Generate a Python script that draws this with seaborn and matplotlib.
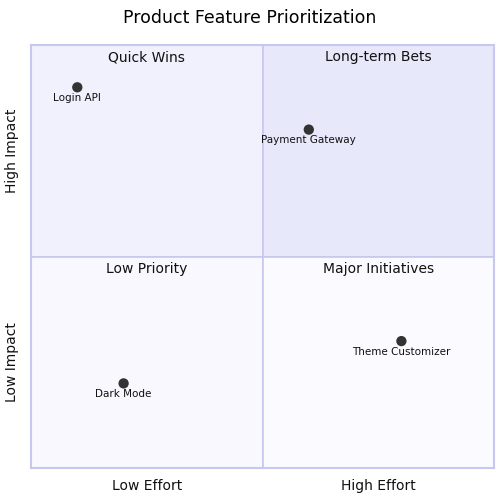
import matplotlib
matplotlib.use("Agg")
import matplotlib.pyplot as plt
from matplotlib.patches import Rectangle
import pandas as pd
import seaborn as sns

# data
features = ["Login API", "Payment Gateway", "Theme Customizer", "Dark Mode"]
effort = [0.10, 0.60, 0.80, 0.20]
impact = [0.90, 0.80, 0.30, 0.20]
quadrant_names = ["Quick Wins", "Long-term Bets", "Low Priority", "Major Initiatives"]
x_labels = ["Low Effort", "High Effort"]
y_labels = ["Low Impact", "High Impact"]

df = pd.DataFrame({"feature": features, "effort": effort, "impact": impact})

sns.set_style("white")
plt.rcParams["font.family"] = ["DejaVu Sans"]

fig = plt.figure(figsize=(5, 5), dpi=100)
ax = fig.add_axes([0.062, 0.064, 0.926, 0.846])

fills = {(0, 1): "#f1f1fd", (1, 1): "#e8e8fb", (0, 0): "#f8f8fe", (1, 0): "#fbfbff"}
edge = "#c8c8ef"
for (qx, qy), c in fills.items():
    ax.add_patch(Rectangle((qx * 0.5, qy * 0.5), 0.5, 0.5, facecolor=c,
                           edgecolor=edge, linewidth=1.2, zorder=0))

label_pos = [(0.25, 1), (0.75, 1), (0.25, 0.5), (0.75, 0.5)]
for name, (lx, ly) in zip(quadrant_names, label_pos):
    ax.text(lx, ly - 0.013, name, ha="center", va="top", fontsize=10, color="#111111")

sns.scatterplot(data=df, x="effort", y="impact", ax=ax, color="#333333",
                s=55, edgecolor="none", zorder=3, legend=False)
for _, r in df.iterrows():
    ax.text(r["effort"], r["impact"] - 0.013, r["feature"], ha="center", va="top",
            fontsize=7.5, color="#111111", zorder=4)

ax.set_xlim(0, 1)
ax.set_ylim(0, 1)
ax.set_xticks([])
ax.set_yticks([])
ax.set_xlabel("")
ax.set_ylabel("")
for s in ax.spines.values():
    s.set_color(edge)
    s.set_linewidth(1.5)

for i, t in enumerate(x_labels):
    fig.text(0.062 + 0.926 * (0.25 + 0.5 * i), 0.028, t, ha="center", va="center",
             fontsize=10, color="#111111")
for i, t in enumerate(y_labels):
    fig.text(0.024, 0.064 + 0.846 * (0.25 + 0.5 * i), t, ha="center", va="center",
             rotation=90, fontsize=10, color="#111111")

fig.text(0.5, 0.964, "Product Feature Prioritization", ha="center", va="center",
         fontsize=12.5, color="black")

fig.savefig("out.png", dpi=100, facecolor="white")
